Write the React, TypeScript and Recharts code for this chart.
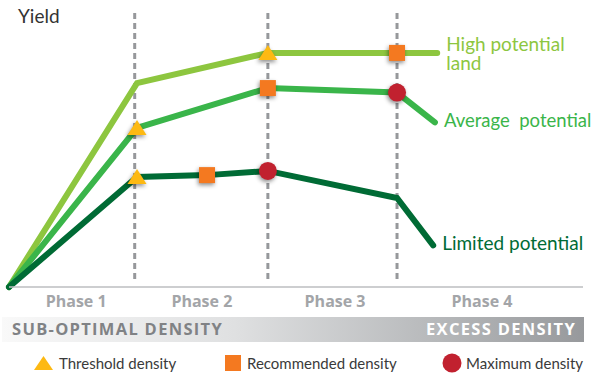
import React from 'react';
import { ComposedChart, Line, Scatter, XAxis, YAxis, ReferenceLine } from 'recharts';

const FONT = 'Lato, "Open Sans", sans-serif';
const BOLD_FONT = '"Open Sans", Lato, sans-serif';

// Plant density (x, 0–100) and yield (y, 0–100) for each land type
const highX = [0, 22.3, 45.1, 67.6, 74.6];
const highY = [0, 73.1, 83.9, 83.9, 83.9];
const averageX = [0, 22.3, 45.1, 67.6, 74.2];
const averageY = [0, 57.0, 71.3, 69.7, 59.0];
const limitedX = [0, 22.3, 34.5, 45.1, 67.6, 73.9];
const limitedY = [0, 39.4, 40.1, 41.6, 31.9, 14.9];

// Phase boundaries and where each phase name sits on the density axis
const phaseBounds = [21.9, 45.1, 67.6];
const phaseLabelX = [11.7, 33.6, 56.8, 82.4];
const phaseLabels = ['Phase 1', 'Phase 2', 'Phase 3', 'Phase 4'];

// Which curve point carries each density marker: [curve, point index]
const thresholdAt: [string, number][] = [['high', 2], ['average', 1], ['limited', 1]];
const recommendedAt: [string, number][] = [['high', 3], ['average', 2], ['limited', 2]];
const maximumAt: [string, number][] = [['average', 3], ['limited', 3]];

const curveKeys = ['high', 'average', 'limited'];
const curveLabels: Record<string, string[]> = {
  high: ['High potential', 'land'],
  average: ['Average  potential'],
  limited: ['Limited potential'],
};
const curveColors: Record<string, string> = {
  high: '#8dc63f',
  average: '#3ab54a',
  limited: '#006b35',
};

const legendItems = ['Threshold density', 'Recommended density', 'Maximum density'];

const zip = (xs: number[], ys: number[]) => xs.map((x, i) => ({ x, y: ys[i] }));
const curves: Record<string, { x: number; y: number }[]> = {
  high: zip(highX, highY),
  average: zip(averageX, averageY),
  limited: zip(limitedX, limitedY),
};
const pick = (refs: [string, number][]) => refs.map(([k, i]) => curves[k][i]);

const TRI = '#fdb913';
const SQR = '#f47920';
const DOT = '#c1212f';
const SHADOW = 'drop-shadow(-1px 2px 2px rgba(0,0,0,0.45))';

const Triangle = (p: any) => (
  <polygon
    points={`${p.cx},${p.cy - 8} ${p.cx + 9.5},${p.cy + 7} ${p.cx - 9.5},${p.cy + 7}`}
    fill={TRI}
    style={{ filter: SHADOW }}
  />
);
const Square = (p: any) => (
  <rect x={p.cx - 8} y={p.cy - 8} width={16} height={16} fill={SQR} style={{ filter: SHADOW }} />
);
const Dot = (p: any) => <circle cx={p.cx} cy={p.cy} r={9} fill={DOT} style={{ filter: SHADOW }} />;

// Curve name drawn just past the last point of each curve
const endLabel = (key: string) => (p: any) => (
  <g>
    {curveLabels[key].map((t, i) => (
      <text
        key={i}
        x={p.cx + 9}
        y={p.cy + (key === 'high' ? -2 : 4.5) + i * 19}
        fill={curveColors[key]}
        fontSize={key === 'average' ? 18.5 : 19}
        fontFamily={FONT}
        style={{ whiteSpace: 'pre' }}
      >
        {t}
      </text>
    ))}
  </g>
);

const PhaseTick = (p: any) => (
  <text
    x={p.x}
    y={p.y + 20}
    textAnchor="middle"
    fill="#a3a5a8"
    fontSize={16}
    fontWeight={700}
    fontFamily={BOLD_FONT}
  >
    {phaseLabels[p.index]}
  </text>
);

export default function App() {
  return (
    <div style={{ position: 'absolute', left: 0, top: 0, width: 595, height: 376, background: '#fff', fontFamily: FONT }}>
      <ComposedChart width={595} height={376} margin={{ top: 8, right: 12, left: 9, bottom: 59 }}>
        <XAxis
          type="number"
          dataKey="x"
          domain={[0, 100]}
          ticks={phaseLabelX}
          interval={0}
          tickLine={false}
          tickSize={0}
          tickMargin={0}
          height={30}
          axisLine={{ stroke: '#bcbec0', strokeWidth: 1.5 }}
          tick={<PhaseTick />}
        />
        <YAxis
          type="number"
          domain={[0, 100]}
          width={0}
          tick={false}
          tickLine={false}
          axisLine={{ stroke: '#b3b3b3', strokeWidth: 1.5 }}
        />
        {phaseBounds.map((b) => (
          <ReferenceLine
            key={b}
            segment={[{ x: b, y: 98.2 }, { x: b, y: 1.5 }]}
            stroke="#96989b"
            strokeWidth={3}
            strokeDasharray="6 4"
          />
        ))}
        {curveKeys.map((k) => (
          <Line
            key={k}
            data={curves[k]}
            dataKey="y"
            type="linear"
            stroke={curveColors[k]}
            strokeWidth={6}
            strokeLinecap="round"
            dot={false}
            activeDot={false}
            isAnimationActive={false}
          />
        ))}
        <Scatter data={pick(thresholdAt)} dataKey="y" shape={Triangle} isAnimationActive={false} />
        <Scatter data={pick(recommendedAt)} dataKey="y" shape={Square} isAnimationActive={false} />
        <Scatter data={pick(maximumAt)} dataKey="y" shape={Dot} isAnimationActive={false} />
        {curveKeys.map((k) => (
          <Scatter
            key={`lbl-${k}`}
            data={[curves[k][curves[k].length - 1]]}
            dataKey="y"
            shape={endLabel(k)}
            isAnimationActive={false}
          />
        ))}
      </ComposedChart>

      <svg width={595} height={376} style={{ position: 'absolute', left: 0, top: 0, pointerEvents: 'none' }}>
        <defs>
          <linearGradient id="densityBand" x1="0" y1="0" x2="1" y2="0">
            <stop offset="0" stopColor="#f9f9f9" />
            <stop offset="0.4" stopColor="#dfe0e1" />
            <stop offset="0.75" stopColor="#b6b8ba" />
            <stop offset="1" stopColor="#97999c" />
          </linearGradient>
        </defs>
        <text x={18} y={23} fontSize={19} fill="#333" fontFamily={FONT}>
          Yield
        </text>
        <rect x={2} y={317} width={582} height={25} fill="url(#densityBand)" />
        <text x={12} y={335} fontSize={16.5} fontWeight={700} letterSpacing={1.3} fill="#808285" fontFamily={BOLD_FONT}>
          SUB-OPTIMAL DENSITY
        </text>
        <text x={576} y={335} textAnchor="end" fontSize={16.5} fontWeight={700} letterSpacing={1.3} fill="#fff" fontFamily={BOLD_FONT}>
          EXCESS DENSITY
        </text>
        <polygon points="43.5,356 53,370 34,370" fill={TRI} />
        <text x={59} y={369} fontSize={15} fill="#3a3a3a" fontFamily={FONT}>
          {legendItems[0]}
        </text>
        <rect x={225} y={355} width={16} height={16} fill={SQR} />
        <text x={247} y={369} fontSize={15} fill="#3a3a3a" fontFamily={FONT}>
          {legendItems[1]}
        </text>
        <circle cx={452} cy={363} r={9.5} fill={DOT} />
        <text x={466} y={369} fontSize={15} fill="#3a3a3a" fontFamily={FONT}>
          {legendItems[2]}
        </text>
      </svg>
    </div>
  );
}
